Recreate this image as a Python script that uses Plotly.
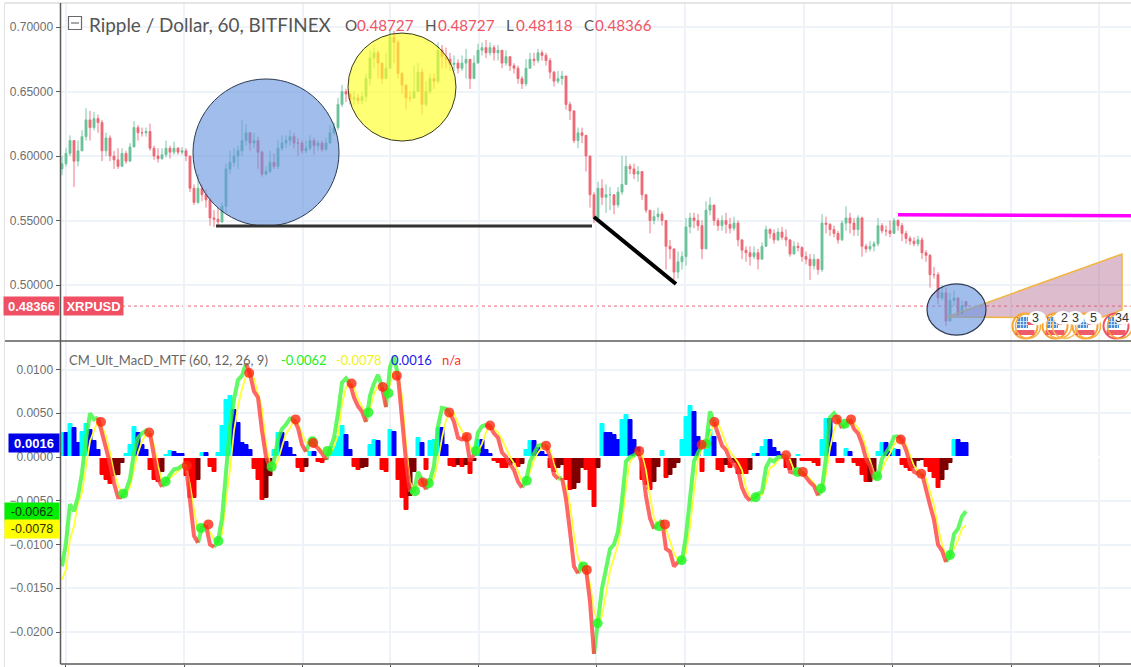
import plotly.graph_objects as go

W, H = 1131, 667
# ---------- price data (thousandths of a dollar), one hourly bar per entry ----------
close_m = [594,602,612,596,604,615,628,622,629,626,
604,614,600,597,592,602,596,607,622,618,
618,619,606,600,598,601,606,603,606,603,
604,600,575,564,575,570,566,552,551,549,
561,590,595,600,604,612,618,610,612,603,
586,588,595,592,606,610,612,615,610,610,
604,606,612,608,610,605,610,618,622,640,
650,648,644,645,643,646,660,676,680,672,
660,668,692,688,664,655,645,645,650,665,
640,650,660,658,682,677,675,671,672,668,
672,675,660,672,682,684,680,684,680,682,
672,677,670,668,660,656,668,675,674,680,
678,674,665,658,660,662,640,635,612,618,
616,600,570,552,575,568,570,570,562,572,
578,592,590,586,588,570,558,550,553,555,
550,530,528,510,518,522,545,552,550,546,
528,558,562,550,546,550,547,544,548,535,
527,525,522,525,520,530,543,540,535,541,
537,535,524,530,529,522,520,515,520,512,
548,547,543,540,535,548,552,548,543,552,
530,528,530,532,546,542,542,540,550,546,
540,536,534,532,535,525,523,508,508,490,
494,472,488,490,478,484,483.66]
high_m = [600,606,616,606,612,620,637,635,634,632,
628,618,616,604,606,606,604,610,627,624,
622,622,625,608,606,606,612,608,611,607,
607,606,600,578,586,578,574,568,558,560,
564,594,604,606,608,628,625,617,618,615,
604,592,604,602,612,616,616,620,618,614,
612,612,616,614,612,612,614,624,626,645,
655,652,650,650,648,650,664,682,684,682,
672,680,698,697,690,665,655,650,670,672,
668,658,664,664,688,686,684,680,678,675,
678,683,668,678,687,688,690,688,686,686,
680,682,676,672,670,662,675,680,680,683,
682,680,676,666,666,666,660,642,634,622,
622,612,590,572,580,582,578,576,570,576,
600,600,594,594,592,588,568,558,558,560,
557,548,535,525,526,526,552,556,556,555,
550,565,568,558,552,554,556,552,553,550,
534,530,530,530,528,533,546,544,543,544,
545,543,535,534,533,530,526,524,524,520,
555,553,548,546,542,550,561,556,552,554,
553,532,534,534,552,548,546,550,552,551,
548,542,538,537,538,537,527,524,514,510,
500,498,494,496,490,488,487.27]
low_m = [585,592,600,576,592,606,612,612,620,618,
596,600,596,590,590,592,594,598,610,612,
615,615,604,597,595,597,599,598,601,601,
601,596,572,562,563,565,560,546,545,545,
548,556,586,592,590,600,608,604,606,590,
584,585,587,590,590,604,606,608,606,600,
602,602,604,601,604,603,604,610,616,620,
638,642,640,640,640,640,642,655,668,660,
656,660,668,672,660,648,636,642,644,652,
632,638,648,652,656,668,668,666,666,664,
666,660,652,660,672,678,676,678,674,674,
668,670,666,664,656,652,654,668,670,672,
674,670,660,654,656,655,636,628,610,606,
610,588,560,548,565,562,556,558,555,560,
570,582,586,582,580,566,556,540,547,550,
546,512,520,504,505,512,515,540,544,542,
520,528,554,546,542,542,540,540,542,530,
520,518,515,520,512,520,530,536,532,534,
535,530,522,524,526,518,516,504,512,508,
510,540,538,537,532,534,542,540,538,538,
522,525,526,526,530,540,538,537,544,542,
534,532,531,530,530,520,518,498,505,485,
488,468,474,484,476,480,481.18]
last_open_m = 487.27

# ---------- MACD data (units of 0.0001) ----------
macd_e4 = [-125,-98,-54,-62,-45,-18,20,50,43,45,
25,10,-8,-30,-46,-46,-38,-25,5,22,
27,30,27,0,-25,-34,-28,-20,-14,-13,
-10,-10,-50,-90,-98,-80,-78,-100,-103,-96,
-70,-15,35,66,88,93,107,95,75,68,
30,0,-12,-4,20,32,37,44,43,33,
14,6,18,14,10,4,-3,10,22,50,
85,90,84,68,58,52,40,70,84,94,
80,57,103,115,93,40,-5,-40,-39,-17,
-26,-37,-27,-10,35,56,55,50,40,22,
20,23,-5,3,28,35,37,35,27,22,
5,0,-8,-15,-28,-35,-27,-5,5,13,
14,13,0,-20,-25,-24,-48,-85,-125,-133,
-124,-128,-165,-225,-190,-150,-128,-105,-100,-85,
-50,-5,0,2,6,-8,-45,-70,-82,-78,
-72,-105,-108,-125,-120,-118,-90,-50,-5,5,
13,15,52,40,25,13,8,-3,-8,-15,
-35,-45,-50,-47,-42,-40,-12,-3,-5,0,
0,2,-17,-18,-17,-17,-24,-29,-33,-44,
-36,0,45,50,43,33,38,43,32,27,
15,-2,-10,-25,-22,-2,5,12,23,24,
19,8,-8,-17,-19,-19,-35,-55,-72,-100,
-107,-120,-112,-88,-82,-68,-62]
signal_e4 = [-140,-129,-94,-79,-53,-41,-11,18,30,42,
35,24,5,-18,-32,-42,-42,-34,-14,5,
18,26,27,14,-10,-28,-28,-24,-20,-16,
-12,-10,-32,-60,-86,-81,-78,-86,-94,-96,
-88,-50,-15,30,58,78,92,96,90,72,
55,15,-8,-13,-4,12,27,33,42,38,
28,16,15,15,12,8,2,3,12,25,
60,80,84,80,66,58,50,55,72,82,
80,68,82,98,93,70,15,-28,-39,-32,
-29,-32,-30,-24,-5,22,42,50,50,38,
30,24,12,4,6,15,28,36,32,28,
20,10,0,-7,-16,-28,-28,-17,-3,5,
11,13,8,-8,-20,-25,-33,-55,-90,-115,
-125,-128,-145,-175,-190,-182,-155,-130,-115,-100,
-75,-35,-5,0,5,3,-15,-45,-70,-78,
-76,-82,-97,-110,-118,-118,-110,-80,-40,-3,
12,15,25,40,38,28,15,6,0,-6,
-15,-35,-46,-47,-44,-43,-30,-12,-10,-4,
0,2,-3,-15,-17,-17,-20,-25,-30,-38,
-36,-20,10,30,43,36,38,43,38,33,
25,10,-3,-18,-22,-14,-4,4,14,20,
20,14,2,-10,-16,-19,-25,-40,-55,-80,
-100,-113,-112,-105,-95,-82,-78]
hist_e4 = [27,27,38,33,16,29,38,31,18,8,
-21,-26,-31,-22,-21,-7,4,14,34,27,
14,8,-15,-26,-29,-17,2,7,6,4,
3,-22,-47,-47,-26,5,5,-11,-17,5,
36,65,70,54,39,16,14,8,-14,-26,
-49,-47,-22,8,27,27,17,10,2,-13,
-17,-11,6,6,-6,-7,-3,4,11,23,
35,25,8,-11,-15,-13,-11,14,19,18,
-15,-17,31,29,-26,-47,-60,-45,-17,22,
16,-15,18,19,33,33,14,-10,-11,-9,
-11,-9,-19,-5,20,20,8,4,-5,-7,
-13,-13,-9,-7,-11,-8,8,18,18,10,
6,2,-13,-17,-13,-9,-26,-38,-37,-30,
-13,-15,-38,-57,-13,38,27,27,25,19,
42,48,42,19,10,-26,-32,-38,-28,-11,
7,-24,-20,-13,-7,19,46,58,52,23,
-17,8,31,23,-15,-17,-9,-13,-7,-19,
-19,-19,-15,4,4,12,19,19,10,6,
2,-13,-15,-13,2,-5,-5,-5,-7,-10,
19,44,44,16,-7,-7,9,6,-7,-10,
-20,-29,-28,-17,6,16,16,6,9,8,
-9,-13,-16,-13,-5,-3,-11,-17,-24,-35,
-26,-15,-7,20,19,16,16]

# crossover dots: bar position, value (0.0001)
cross_red_x = [9.75,21.8,31.2,36.6,46.8,58.4,62.8,72.4,80.2,83.7,90.2,96.8,101.2,107,121,131.2,144.3,150.75,159.9,163.1,181,185.2,193.7,197.25,209.7,214.8]
cross_red_v = [40,28,-10,-77,96,43,16,84,80,93,-29,51,23,36,13,-129,7,-77,14,40,2,-17,43,43,20,-19]
cross_green_x = [15.3,25.9,34.75,39.1,52.4,62.6,66.4,76.6,81.6,88.25,91.7,103.5,116.2,130.3,133.9,149.3,154.9,161,173.4,183.9,189.75,195.75,203.8,222]
cross_green_v = [-42,-28,-81,-96,-11,18,7,51,73,-39,-30,7,-27,-125,-190,-79,-118,15,-46,-17,-36,38,-22,-112]

grid_x = [0.875,30.5,60.125,82,104.125,133.5,155.625,185.375,207.5,237.25,259.25]
price_ticks = [0.50,0.55,0.60,0.65,0.70]
macd_ticks = [0.01,0.005,0,-0.005,-0.01,-0.015,-0.02]

n = len(close_m)
assert len(high_m) == n and len(low_m) == n and len(macd_e4) == n and len(signal_e4) == n and len(hist_e4) == n
bars = list(range(n))
close_p = [v / 1000 for v in close_m]
high_p = [v / 1000 for v in high_m]
low_p = [v / 1000 for v in low_m]
open_p = [close_p[0] - 0.004] + close_p[:-1]
open_p[-1] = last_open_m / 1000
macd = [v / 1e4 for v in macd_e4]
signal = [v / 1e4 for v in signal_e4]
hist = [v / 1e4 for v in hist_e4]

# axis geometry in window pixels
LEFT, TOPY, MIDY, BOTY = 60.5, 3, 341, 664
px_per_bar = 4
x_range = [(LEFT - 62) / px_per_bar, (W - 62) / px_per_bar]
p_range = [0.70 - (MIDY - 27) / 1290, 0.70 + (27 - TOPY) / 1290]
m_range = [(457 - BOTY) / 8750, (457 - MIDY) / 8750]
py = lambda y: 1 - y / H
px = lambda x: x / W
X = lambda p: (p - 62) / px_per_bar
Y = lambda y: 0.70 - (y - 27) / 1290

fig = go.Figure()
RED, GREEN = "#ee6a76", "#6cc29a"
fig.add_trace(go.Candlestick(x=bars, open=open_p, high=high_p, low=low_p, close=close_p,
    xaxis="x", yaxis="y", whiskerwidth=0,
    increasing=dict(line=dict(color=GREEN, width=0.9), fillcolor=GREEN),
    decreasing=dict(line=dict(color=RED, width=0.9), fillcolor=RED), hoverinfo="skip"))

# histogram colours by rising or falling
hcol = []
for i, v in enumerate(hist):
    prev = hist[i - 1] if i else 0
    if v >= 0:
        hcol.append("#00ffff" if v > prev else "#0000ff")
    else:
        hcol.append("#ff0000" if v <= prev else "#800000")
fig.add_trace(go.Bar(x=bars, y=hist, marker=dict(color=hcol, line=dict(color=hcol, width=1)), width=[1] * n,
    xaxis="x2", yaxis="y2", hoverinfo="skip"))
fig.add_trace(go.Scatter(x=[x_range[0], x_range[1]], y=[0, 0], mode="lines",
    line=dict(color="#ffffff", width=2.2), xaxis="x2", yaxis="y2", hoverinfo="skip"))
fig.add_trace(go.Scatter(x=bars, y=signal, mode="lines", line=dict(color="#ffff33", width=1.8),
    xaxis="x2", yaxis="y2", hoverinfo="skip"))

gx, gy, rx, ry = [], [], [], []
cur = None
for i in range(n - 1):
    col = "g" if macd[i + 1] >= signal[i + 1] else "r"
    tx, ty = (gx, gy) if col == "g" else (rx, ry)
    if col != cur:
        if cur is not None:
            ox, oy = (gx, gy) if cur == "g" else (rx, ry)
            ox.append(None); oy.append(None)
        tx.append(bars[i]); ty.append(macd[i])
        cur = col
    tx.append(bars[i + 1]); ty.append(macd[i + 1])
fig.add_trace(go.Scatter(x=gx, y=gy, mode="lines", line=dict(color="#3cf83c", width=4),
    opacity=0.8, xaxis="x2", yaxis="y2", hoverinfo="skip"))
fig.add_trace(go.Scatter(x=rx, y=ry, mode="lines", line=dict(color="#ff4040", width=4),
    opacity=0.8, xaxis="x2", yaxis="y2", hoverinfo="skip"))
fig.add_trace(go.Scatter(x=cross_green_x, y=[v / 1e4 for v in cross_green_v], mode="markers",
    marker=dict(color="rgba(40,245,40,0.85)", size=10, line=dict(width=0)),
    xaxis="x2", yaxis="y2", hoverinfo="skip"))
fig.add_trace(go.Scatter(x=cross_red_x, y=[v / 1e4 for v in cross_red_v], mode="markers",
    marker=dict(color="rgba(255,40,15,0.8)", size=10, line=dict(width=0)),
    xaxis="x2", yaxis="y2", hoverinfo="skip"))

shapes = []
def S(**k):
    k.setdefault("xref", "x"); k.setdefault("yref", "y"); k.setdefault("layer", "above")
    shapes.append(k)

# drawn tools on the price pane
last = close_p[-1]
S(type="line", x0=X(122), x1=x_range[1], y0=last, y1=last, line=dict(color="#ef6a78", width=1, dash="dot"), layer="below")
S(type="circle", x0=32.75, x1=69.25, y0=0.5457, y1=0.6597, fillcolor="rgba(103,148,225,0.62)", line=dict(color="#2c3a50", width=1))
S(type="circle", x0=71.5, x1=98.5, y0=0.6116, y1=0.6953, fillcolor="rgba(255,255,40,0.65)", line=dict(color="#3a3a20", width=1))
S(type="line", x0=38.5, x1=132.5, y0=0.5457, y1=0.5457, line=dict(color="#333333", width=3))
S(type="line", x0=133, x1=153.5, y0=0.5527, y1=0.5008, line=dict(color="#000000", width=4))
S(type="line", x0=209, x1=267.25, y0=0.5545, y1=0.5537, line=dict(color="#ff00ff", width=3.5))
tri = [(221.25, 0.4752), (265, 0.5240), (265, 0.4806), (259.5, 0.4744)]
S(type="path", path="M " + " L ".join(f"{a},{b}" for a, b in tri) + " Z",
  fillcolor="rgba(175,95,135,0.42)", line=dict(color="#f2b640", width=1.5))
S(type="circle", x0=216.25, x1=231, y0=0.4612, y1=0.5008, fillcolor="rgba(103,148,225,0.62)", line=dict(color="#2c3a50", width=1.2))

# economic-event flags
flag_px = [1025, 1055, 1085, 1116]
ring_col = ["#f7a233", "#f7a233", "#f7a233", "#f0525f"]
extra_rings = [(1028, "#f9b040"), (1059, "#f9b040"), (1065, "#f9c25c"), (1088, "#f9b040"), (1120, "#f7a233")]
fy = 326
R = 12.5
for cx, col in zip(flag_px, ring_col):
    S(type="circle", x0=X(cx - R), x1=X(cx + R), y0=Y(fy + R), y1=Y(fy - R), fillcolor="#ffffff", line=dict(color=col, width=2))
    S(type="rect", x0=X(cx - 9.5), x1=X(cx + 9.5), y0=Y(fy + 9), y1=Y(fy + 4), fillcolor="#ef5b68", line=dict(width=0))
    S(type="rect", x0=X(cx + 3), x1=X(cx + 9.5), y0=Y(fy - 1), y1=Y(fy - 4), fillcolor="#ef5b68", line=dict(width=0))
    S(type="rect", x0=X(cx - 8), x1=X(cx + 3), y0=Y(fy + 2), y1=Y(fy - 9), fillcolor="#4a8fd8", line=dict(width=0))
    for d in (-5, -2, 1):
        S(type="rect", x0=X(cx + d), x1=X(cx + d + 0.8), y0=Y(fy + 2), y1=Y(fy - 9), fillcolor="#dfeafa", line=dict(width=0))
    for d in (-5, -2):
        S(type="rect", x0=X(cx - 8), x1=X(cx + 3), y0=Y(fy + d), y1=Y(fy + d + 0.8), fillcolor="#dfeafa", line=dict(width=0))
for ex, col in extra_rings:
    S(type="circle", x0=X(ex - R), x1=X(ex + R), y0=Y(fy + R), y1=Y(fy - R), line=dict(color=col, width=1.5))
for bx in [1037, 1063, 1075, 1093, 1123]:
    S(type="circle", x0=X(bx - 9), x1=X(bx + 9), y0=Y(318 + 7), y1=Y(318 - 7), fillcolor="#ffffff", line=dict(width=0))

# frame lines
frame = "#5a5a5a"
for kw in [dict(x0=4.5, x1=W, y0=TOPY, y1=TOPY, c="#dcdcdc", w=1.5),
           dict(x0=4.5, x1=W, y0=MIDY, y1=MIDY, c=frame, w=1.5),
           dict(x0=LEFT, x1=W, y0=BOTY, y1=BOTY, c=frame, w=1.5),
           dict(x0=4.5, x1=4.5, y0=TOPY, y1=H, c="#e2e2e2", w=1),
           dict(x0=LEFT, x1=LEFT, y0=TOPY, y1=BOTY, c=frame, w=1.5)]:
    S(type="line", xref="paper", yref="paper", x0=px(kw["x0"]), x1=px(kw["x1"]), y0=py(kw["y0"]), y1=py(kw["y1"]),
      line=dict(color=kw["c"], width=kw["w"]))
# pane-collapse icon
S(type="rect", xref="paper", yref="paper", x0=px(68.5), x1=px(81.5), y0=py(29.5), y1=py(16.5), line=dict(color="#6a6a6a", width=1.2), fillcolor="#ffffff")
S(type="line", xref="paper", yref="paper", x0=px(71), x1=px(79), y0=py(23), y1=py(23), line=dict(color="#8a8a8a", width=1.5))

ann = []
HEAD = "Lato"
def T(text, x, y, size, color, font=HEAD, anchor="left", bold=False, bg=None, w=None, h=None, yshift=0, yref="paper", yv=None):
    d = dict(text=f"<b>{text}</b>" if bold else text, xref="paper", yref=yref, x=px(x), y=py(y) if yv is None else yv,
             xanchor=anchor, yanchor="middle", showarrow=False, font=dict(size=size, color=color, family=font), borderpad=0, yshift=yshift)
    if bg: d["bgcolor"] = bg
    if w: d["width"] = w
    if h: d["height"] = h
    ann.append(d)

T("Ripple / Dollar, 60, BITFINEX", 88, 24, 18.9, "#555555")
VAL = "#ef5464"
for lab, lx, val, vx in [("O", 344, "0.48727", 356), ("H", 424, "0.48727", 437), ("L", 505, "0.48118", 515), ("C", 583, "0.48366", 594)]:
    T(lab, lx, 24.5, 15.2, "#555555")
    T(val, vx, 24.5, 15.2, VAL)
T("0.48366", 60, 0, 13, "#ffffff", "Liberation Sans", anchor="right", bold=True, bg="#ef5064", w=55, h=18, yref="y", yv=last)
T("XRPUSD", 63, 0, 13, "#ffffff", "Liberation Sans", bold=True, bg="#ef5064", w=59, h=18, yref="y", yv=last)
T("CM_Ult_MacD_MTF (60, 12, 26, 9)", 68, 359.5, 13, "#666666")
T("-0.0062", 280, 359.5, 13, "#22ee22", bold=False)
T("-0.0078", 335, 359.5, 13, "#f2f215")
T("0.0016", 390, 359.5, 13, "#2020ee")
T("n/a", 441, 359.5, 13, "#ff3030")
T(f"{hist[-1]:.4f}", 60, 0, 13, "#ffffff", "Liberation Sans", anchor="right", bold=True, bg="#0000e6", w=50, h=18, yref="y2", yv=hist[-1])
T(f"{macd[-1]:.4f}", 60, 0, 12.5, "#103010", "Liberation Sans", anchor="right", bg="#00ee00", w=54, h=17.5, yref="y2", yv=macd[-1], yshift=-1)
T(f"{signal[-1]:.4f}", 60, 0, 12.5, "#303000", "Liberation Sans", anchor="right", bg="#ffff00", w=54, h=17.5, yref="y2", yv=signal[-1], yshift=-4)
for bx, t in [(1035, "3"), (1064, "2"), (1075, "3"), (1093, "5"), (1122, "34")]:
    T(t, bx, 318, 12.5, "#333333", "Liberation Sans", anchor="center")

GRID = "#edf3f8"
AX_FONT = dict(family="Liberation Sans", size=12, color="#6e6e6e")
xcommon = dict(range=x_range, showgrid=True, gridcolor=GRID, gridwidth=1.5, zeroline=False, showline=False,
               tickmode="array", tickvals=grid_x, ticktext=[""] * len(grid_x), rangeslider=dict(visible=False),
               domain=[LEFT / W, 1])
fig.update_layout(
    width=W, height=H, margin=dict(l=0, r=0, t=0, b=0), paper_bgcolor="#ffffff", plot_bgcolor="#ffffff",
    showlegend=False, barmode="overlay", bargap=0, shapes=shapes, annotations=ann,
    xaxis=dict(**xcommon, anchor="y", ticks=""),
    xaxis2=dict(**xcommon, anchor="y2", ticks="outside", ticklen=3, tickcolor=frame),
    yaxis=dict(domain=[py(MIDY), py(TOPY)], range=p_range, tickmode="array", tickvals=price_ticks, tickformat=".5f",
               showgrid=True, gridcolor=GRID, gridwidth=1.5, zeroline=False, ticks="outside", ticklen=4, tickcolor=frame,
               tickfont=AX_FONT, anchor="x"),
    yaxis2=dict(domain=[py(BOTY), py(MIDY)], range=m_range, tickmode="array", tickvals=macd_ticks, tickformat=".4f",
                showgrid=True, gridcolor=GRID, gridwidth=1.5, zeroline=False, ticks="outside", ticklen=4, tickcolor=frame,
                tickfont=AX_FONT, anchor="x2"),
)
fig.write_html("out.html", config=dict(displayModeBar=False),
               post_script="document.body.style.margin='0';document.documentElement.style.overflow='hidden';")
